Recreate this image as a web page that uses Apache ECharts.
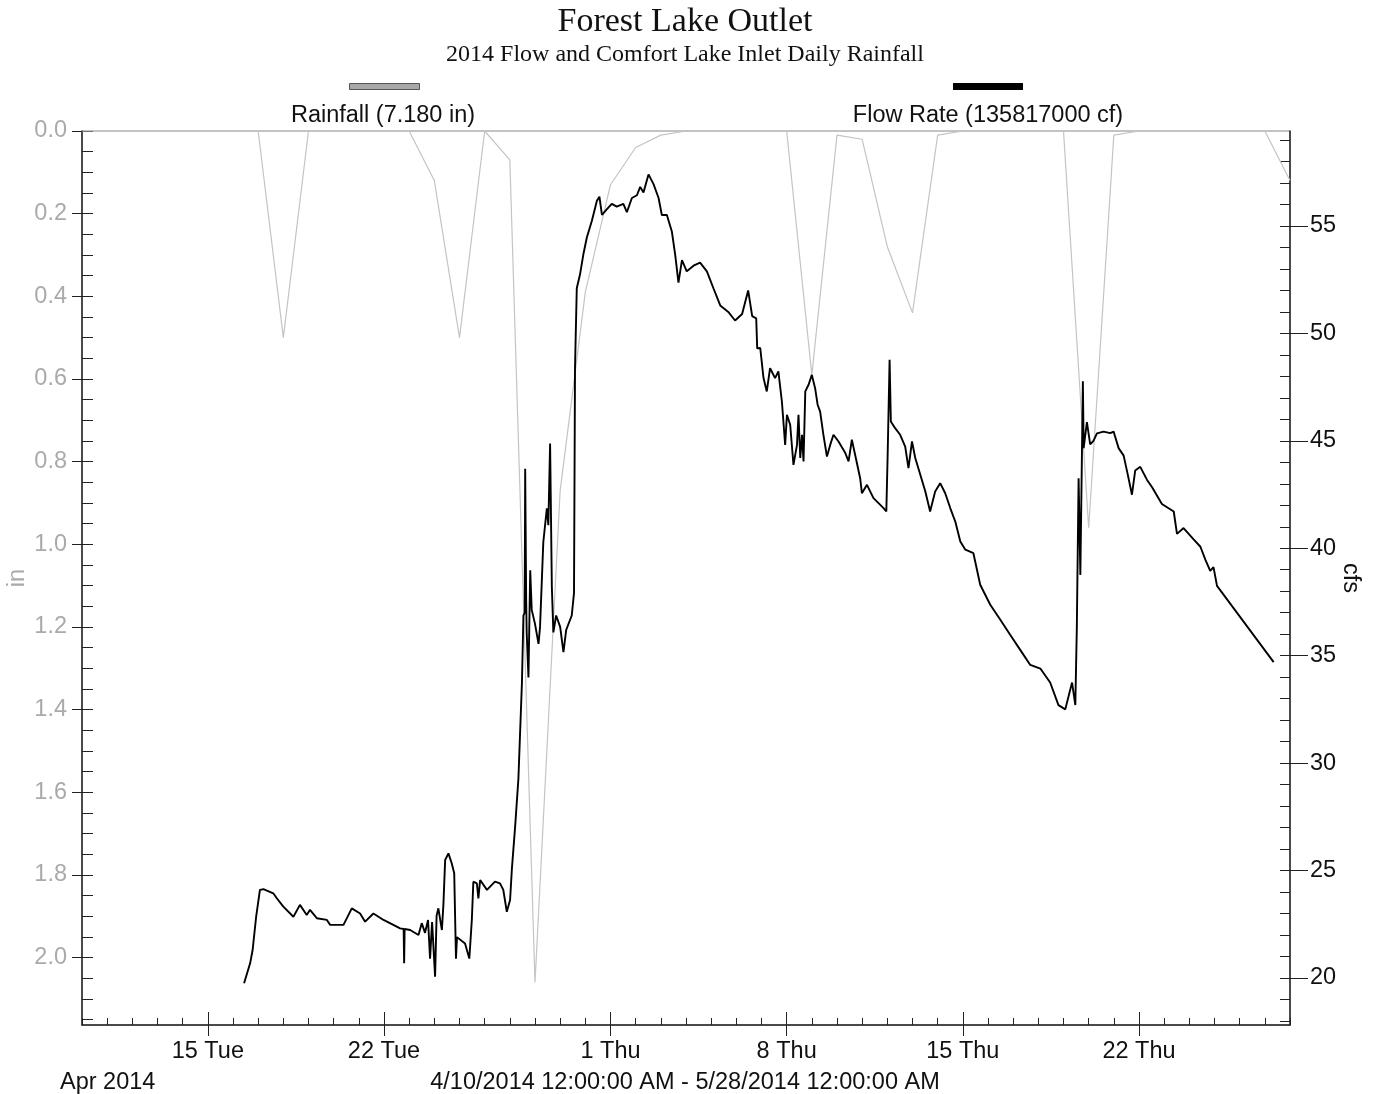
<!DOCTYPE html>
<html>
<head>
<meta charset="utf-8">
<title>Forest Lake Outlet</title>
<script src="https://cdn.jsdelivr.net/npm/echarts@6/dist/echarts.min.js"></script>
<style>
  html, body { margin: 0; padding: 0; background: #fff; }
  #chart { width: 1377px; height: 1094px; }
</style>
</head>
<body>
<div id="chart"></div>
<script>
// Period covered: 4/10/2014 00:00 to 5/28/2014 00:00
const periodStart = [2014, 3, 10];
const periodDays = 48;

// Comfort Lake inlet daily rainfall (in), one value per day from Apr 10 to May 28
const dailyRainfall = [
  0, 0, 0, 0, 0, 0, 0,          // Apr 10-16
  0, 0.50, 0,                   // Apr 17-19
  0, 0, 0, 0,                   // Apr 20-23
  0.12, 0.50, 0, 0.07, 2.06,    // Apr 24-28
  0.87, 0.39, 0.13, 0.04, 0.01, // Apr 29 - May 3
  0, 0, 0, 0,                   // May 4-7
  0, 0.59, 0.01, 0.02, 0.28, 0.44, 0.01, // May 8-14
  0, 0, 0, 0,                   // May 15-18
  0, 0.96, 0.01,                // May 19-21
  0, 0, 0, 0, 0, 0,             // May 22-27
  0.12                          // May 28
];

// Outlet flow readings: [days since Apr 10 00:00, flow in cfs]
const flowReadings = [
  [6.44,19.75],[6.68,20.68],[6.78,21.3],[6.92,22.85],[7.07,24.1],[7.21,24.13],[7.60,23.94],[7.74,23.71],
  [8.00,23.32],[8.40,22.85],[8.66,23.4],[8.93,22.93],[9.06,23.17],[9.33,22.78],[9.73,22.7],[9.86,22.47],
  [10.39,22.47],[10.72,23.24],[11.05,23.0],[11.25,22.62],[11.58,23.0],[11.98,22.7],[12.37,22.47],[12.64,22.31],
  [12.78,22.28],[12.80,20.68],[12.82,22.28],[13.04,22.23],[13.37,22.0],[13.50,22.55],[13.63,22.1],[13.75,22.7],
  [13.83,20.9],[13.91,22.6],[14.03,20.06],[14.09,22.9],[14.16,23.24],[14.30,22.23],[14.36,23.4],[14.43,25.49],
  [14.56,25.8],[14.69,25.34],[14.79,24.87],[14.85,24.8],[14.86,20.9],[14.90,21.9],[14.96,21.85],[15.22,21.6],
  [15.39,20.9],[15.49,22.7],[15.55,24.48],[15.69,24.4],[15.75,23.7],[15.82,24.56],[16.09,24.1],[16.41,24.48],
  [16.61,24.4],[16.74,24.1],[16.88,23.08],[17.01,23.63],[17.08,25.05],[17.21,27.03],[17.34,29.26],[17.48,33.71],
  [17.54,36.86],[17.59,37.0],[17.61,43.7],[17.65,37.5],[17.67,36.08],[17.74,33.98],[17.81,38.97],[17.87,37.13],
  [18.00,36.48],[18.14,35.55],[18.20,36.34],[18.33,40.28],[18.47,41.86],[18.53,41.07],[18.60,44.87],[18.67,38.18],
  [18.73,36.08],[18.84,36.87],[19.00,36.34],[19.13,35.16],[19.24,36.2],[19.46,36.87],[19.55,37.92],[19.59,48.42],
  [19.66,52.1],[19.79,52.75],[19.92,53.67],[20.06,54.46],[20.26,55.24],[20.46,56.17],[20.56,56.36],[20.66,55.52],
  [20.85,55.77],[21.05,56.03],[21.25,55.9],[21.51,56.03],[21.65,55.64],[21.85,56.3],[22.05,56.43],[22.18,56.82],
  [22.31,56.56],[22.51,57.4],[22.71,56.95],[22.91,56.3],[23.04,55.51],[23.24,55.51],[23.44,54.73],[23.57,53.67],
  [23.70,52.36],[23.84,53.41],[24.03,52.89],[24.30,53.15],[24.56,53.29],[24.83,52.89],[25.09,52.1],[25.36,51.3],
  [25.68,51.0],[25.95,50.6],[26.23,50.9],[26.47,52.0],[26.63,50.8],[26.79,50.7],[26.83,49.3],[26.95,49.32],
  [27.08,47.92],[27.21,47.3],[27.34,48.38],[27.54,47.92],[27.67,48.23],[27.81,46.83],[27.94,44.81],[28.01,46.21],
  [28.14,45.75],[28.27,43.88],[28.41,44.81],[28.47,46.21],[28.54,44.2],[28.61,45.28],[28.67,44.04],[28.74,47.3],
  [28.87,47.61],[29.00,48.07],[29.13,47.45],[29.23,46.68],[29.33,46.36],[29.46,45.28],[29.60,44.27],[29.73,44.81],
  [29.86,45.28],[30.06,44.97],[30.33,44.43],[30.46,44.04],[30.59,45.05],[30.72,44.35],[30.92,43.26],[30.99,42.56],
  [31.19,42.95],[31.45,42.33],[31.65,42.1],[31.85,41.87],[31.96,41.71],[32.01,44.2],[32.09,48.77],[32.14,45.9],
  [32.31,45.59],[32.51,45.28],[32.71,44.73],[32.84,43.73],[32.98,44.97],[33.11,44.2],[33.31,43.42],[33.51,42.64],
  [33.70,41.71],[33.90,42.64],[34.10,43.03],[34.30,42.56],[34.50,41.87],[34.70,41.24],[34.90,40.31],[35.10,39.93],
  [35.42,39.77],[35.69,38.3],[36.09,37.37],[36.49,36.67],[36.88,35.97],[37.28,35.27],[37.68,34.57],[38.08,34.4],
  [38.47,33.75],[38.80,32.7],[39.07,32.5],[39.34,33.75],[39.47,32.7],[39.53,36.34],[39.60,43.26],[39.67,38.76],
  [39.77,47.77],[39.80,44.66],[39.93,45.87],[40.06,44.83],[40.19,45.0],[40.33,45.35],[40.59,45.43],[40.86,45.36],
  [40.99,45.43],[41.19,44.66],[41.39,44.31],[41.55,43.45],[41.72,42.49],[41.85,43.62],[42.05,43.79],[42.32,43.18],
  [42.52,42.84],[42.91,42.06],[43.38,41.71],[43.51,40.67],[43.77,40.94],[44.17,40.41],[44.44,40.07],[44.64,39.46],
  [44.83,38.95],[44.96,39.12],[45.10,38.25],[47.35,34.7]
];

// Axis extents and tick values
const rainAxisMax = 2.163;
const rainMajorTicks = [0, 0.2, 0.4, 0.6, 0.8, 1.0, 1.2, 1.4, 1.6, 1.8, 2.0];
const flowAxisMin = 17.81;
const flowAxisMax = 59.42;
const flowMajorTicks = [20, 25, 30, 35, 40, 45, 50, 55];
const dateMajorTicks = ['2014-04-15', '2014-04-22', '2014-05-01', '2014-05-08', '2014-05-15', '2014-05-22'];

const rainfallLabel = 'Rainfall (7.180 in)';
const flowLabel = 'Flow Rate (135817000 cf)';

// ---- build series and ticks from the arrays above ----
const DAY_MS = 86400000;
const t0 = new Date(periodStart[0], periodStart[1], periodStart[2]).getTime();
const tEnd = t0 + periodDays * DAY_MS;
const dayTime = d => t0 + d * DAY_MS;

const rainSeriesData = dailyRainfall.map((v, i) => [dayTime(i), v]);
const flowSeriesData = flowReadings.map(r => [dayTime(r[0]), r[1]]);

const dailyTicks = [];
for (let i = 0; i <= periodDays; i++) dailyTicks.push(dayTime(i));
const majorDateTicks = dateMajorTicks.map(s => {
  const p = s.split('-').map(Number);
  return new Date(p[0], p[1] - 1, p[2]).getTime();
});

const rainMinorTicks = [];
for (let i = 0; i <= 43; i++) rainMinorTicks.push(+(i * 0.05).toFixed(2));
const flowMinorTicks = [];
for (let v = 18; v <= 59; v++) flowMinorTicks.push(v);

const weekday = ['Sun', 'Mon', 'Tue', 'Wed', 'Thu', 'Fri', 'Sat'];
const SANS = 'Liberation Sans';
const SERIF = 'Liberation Serif';
const AXIS_COLOR = '#222';
const TEXT_SIZE = 23.5;

const chart = echarts.init(document.getElementById('chart'), null, { renderer: 'canvas' });

const hiddenLabel = { show: false };
const noSplit = { show: false };
const sansText = (color) => ({ fontFamily: SANS, fontSize: TEXT_SIZE, fontWeight: 'normal', color });

// the time scale is handled as a plain millisecond value axis so that
// daily and weekly tick positions can be listed explicitly
const timeAxisBase = { type: 'value', min: t0, max: tEnd, position: 'bottom', scale: true };

chart.setOption({
  animation: false,
  backgroundColor: '#ffffff',
  title: [
    { text: 'Forest Lake Outlet', left: 680, top: 0, textAlign: 'center',
      textStyle: { fontFamily: SERIF, fontSize: 34, fontWeight: 'normal', color: '#111' } },
    { text: '2014 Flow and Comfort Lake Inlet Daily Rainfall', left: 680, top: 38, textAlign: 'center',
      textStyle: { fontFamily: SERIF, fontSize: 24, fontWeight: 'normal', color: '#111' } },
    { text: rainfallLabel, left: 378, top: 99, textAlign: 'center', textStyle: sansText('#111') },
    { text: flowLabel, left: 983, top: 99, textAlign: 'center', textStyle: sansText('#111') },
    { text: 'Apr 2014', left: 55, top: 1066, textStyle: sansText('#111') },
    { text: '4/10/2014 12:00:00 AM - 5/28/2014 12:00:00 AM', left: 680, top: 1066, textAlign: 'center',
      textStyle: sansText('#111') }
  ],
  legend: [
    { data: [rainfallLabel], left: 344, top: 78, icon: 'rect', itemWidth: 70, itemHeight: 6,
      selectedMode: false, formatter: () => '', textStyle: { fontSize: 1 },
      itemStyle: { color: '#a8a8a8', borderColor: '#555', borderWidth: 1 } },
    { data: [flowLabel], left: 948, top: 78, icon: 'rect', itemWidth: 70, itemHeight: 7,
      selectedMode: false, formatter: () => '', textStyle: { fontSize: 1 },
      itemStyle: { color: '#000', borderWidth: 0 } }
  ],
  grid: {
    left: 82, right: 87, top: 131, bottom: 69,
    outerBoundsMode: 'none', containLabel: false,
    show: true, borderColor: '#888', borderWidth: 1, backgroundColor: 'transparent'
  },
  xAxis: [
    Object.assign({}, timeAxisBase, { // daily ticks, inside
      axisLine: { show: true, onZero: false, lineStyle: { color: AXIS_COLOR, width: 1.5 } },
      axisTick: { show: true, inside: true, length: 7, customValues: dailyTicks, lineStyle: { color: AXIS_COLOR } },
      axisLabel: hiddenLabel, splitLine: noSplit
    }),
    Object.assign({}, timeAxisBase, { // major ticks, inside part
      axisLine: { show: false, onZero: false },
      axisTick: { show: true, inside: true, length: 13, customValues: majorDateTicks, lineStyle: { color: AXIS_COLOR } },
      axisLabel: hiddenLabel, splitLine: noSplit
    }),
    Object.assign({}, timeAxisBase, { // major ticks, outside part, with day labels
      axisLine: { show: false, onZero: false },
      axisTick: { show: true, inside: false, length: 11, customValues: majorDateTicks, lineStyle: { color: AXIS_COLOR } },
      axisLabel: Object.assign({
        show: true, customValues: majorDateTicks, margin: 15,
        formatter: v => { const d = new Date(v); return d.getDate() + ' ' + weekday[d.getDay()]; }
      }, sansText('#111')),
      splitLine: noSplit
    })
  ],
  yAxis: [
    { // rainfall (inches), inverted, major ticks outside with labels
      type: 'value', min: 0, max: rainAxisMax, inverse: true, position: 'left',
      name: 'in', nameLocation: 'middle', nameGap: 52, nameRotate: 90, nameMoveOverlap: false,
      nameTextStyle: sansText('#aaa'),
      axisLine: { show: true, onZero: false, lineStyle: { color: AXIS_COLOR, width: 1.5 } },
      axisTick: { show: true, inside: false, length: 10, customValues: rainMajorTicks, lineStyle: { color: AXIS_COLOR } },
      axisLabel: Object.assign({ show: true, customValues: rainMajorTicks, margin: 15,
        formatter: v => v.toFixed(1) }, sansText('#aaa')),
      splitLine: noSplit
    },
    { // rainfall minor ticks, inside
      type: 'value', min: 0, max: rainAxisMax, inverse: true, position: 'left',
      axisLine: { show: false, onZero: false },
      axisTick: { show: true, inside: true, length: 11, customValues: rainMinorTicks, lineStyle: { color: AXIS_COLOR } },
      axisLabel: hiddenLabel, splitLine: noSplit
    },
    { // flow (cfs), major ticks outside with labels
      type: 'value', min: flowAxisMin, max: flowAxisMax, position: 'right',
      name: 'cfs', nameLocation: 'middle', nameGap: 48, nameRotate: -90, nameMoveOverlap: false,
      nameTextStyle: sansText('#111'),
      axisLine: { show: true, onZero: false, lineStyle: { color: AXIS_COLOR, width: 1.5 } },
      axisTick: { show: true, inside: false, length: 18, customValues: flowMajorTicks, lineStyle: { color: AXIS_COLOR } },
      axisLabel: Object.assign({ show: true, customValues: flowMajorTicks, margin: 20,
        formatter: v => String(v) }, sansText('#111')),
      splitLine: noSplit
    },
    { // flow minor ticks, inside
      type: 'value', min: flowAxisMin, max: flowAxisMax, position: 'right',
      axisLine: { show: false, onZero: false },
      axisTick: { show: true, inside: true, length: 10, customValues: flowMinorTicks, lineStyle: { color: AXIS_COLOR } },
      axisLabel: hiddenLabel, splitLine: noSplit
    }
  ],
  series: [
    {
      name: rainfallLabel, type: 'line', xAxisIndex: 0, yAxisIndex: 0,
      data: rainSeriesData, showSymbol: false, symbol: 'none', silent: true,
      lineStyle: { color: '#c4c4c4', width: 1.2 }, itemStyle: { color: '#a8a8a8' }, z: 2
    },
    {
      name: flowLabel, type: 'line', xAxisIndex: 0, yAxisIndex: 2,
      data: flowSeriesData, showSymbol: false, symbol: 'none', silent: true,
      lineStyle: { color: '#000', width: 1.9 }, itemStyle: { color: '#000' }, z: 3
    }
  ]
});
</script>
</body>
</html>
